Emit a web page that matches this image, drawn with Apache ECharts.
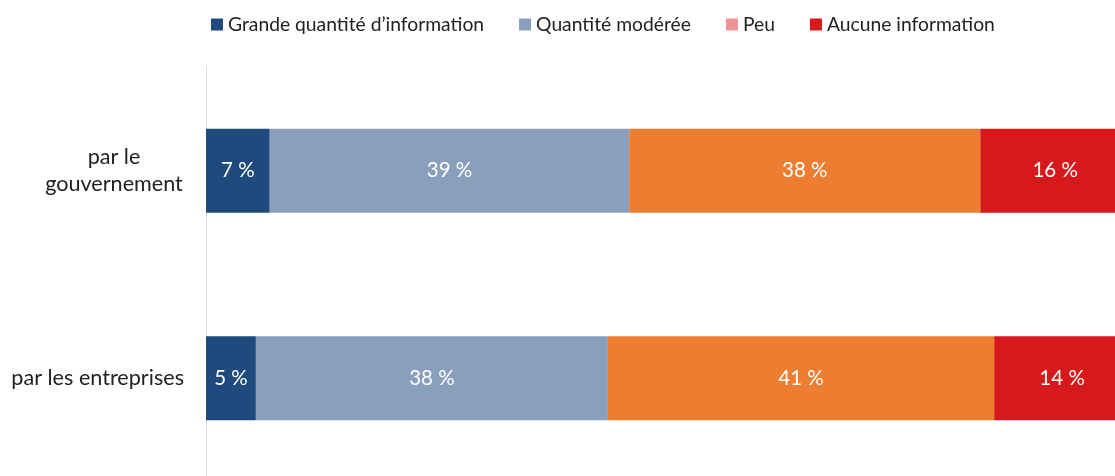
<!DOCTYPE html>
<html>
<head>
<meta charset="utf-8">
<script src="https://cdn.jsdelivr.net/npm/echarts@6/dist/echarts.min.js"></script>
<style>html,body{margin:0;padding:0;background:#fff}#c{width:1115px;height:476px}</style>
</head>
<body>
<div id="c"></div>
<script>
var categories = ['par le\ngouvernement', 'par les entreprises'];
var seriesNames = ['Grande quantité d\u2019information', 'Quantité modérée', 'Peu', 'Aucune information'];
var grande = [6.9, 5.4];
var moderee = [38.9, 38.1];
var peu = [38.0, 41.8];
var aucune = [16.2, 14.7];
var grandeLabels = ['7 %', '5 %'];
var modereeLabels = ['39 %', '38 %'];
var peuLabels = ['38 %', '41 %'];
var aucuneLabels = ['16 %', '14 %'];

var barColors = ['#1f4a7e', '#8a9fbc', '#ed7d31', '#d7191c'];
var legendColors = ['#1f4a7e', '#8a9fbc', '#f09394', '#d7191c'];
var FONT = 'Lato';

var values = [grande, moderee, peu, aucune];
var labels = [grandeLabels, modereeLabels, peuLabels, aucuneLabels];

var chart = echarts.init(document.getElementById('c'));
chart.setOption({
  animation: false,
  textStyle: { fontFamily: FONT },
  legend: {
    top: 10, left: 206,
    icon: 'rect', itemWidth: 12, itemHeight: 12, itemGap: 35,
    textStyle: { fontSize: 19.3, color: '#222', fontFamily: FONT },
    data: seriesNames.map(function (n, i) { return { name: n, itemStyle: { color: legendColors[i] } }; })
  },
  grid: { left: 206, top: 67, width: 924, height: 415, containLabel: false, outerBoundsMode: 'none' },
  xAxis: { type: 'value', min: 0, max: 100, show: false },
  yAxis: {
    type: 'category', inverse: true, data: categories,
    axisLine: { show: true, lineStyle: { color: '#d9d9d9', width: 1 } },
    axisTick: { show: false },
    axisLabel: {
      margin: 22, fontSize: 21.6, color: '#222', fontFamily: FONT, lineHeight: 27,
      formatter: function (v) {
        if (v.indexOf('\n') >= 0) {
          return v.split('\n').map(function (s) { return '{c|' + s + '}'; }).join('\n');
        }
        return v;
      },
      rich: { c: { width: 140, align: 'center', fontSize: 21.6, color: '#222', fontFamily: FONT, lineHeight: 27 } }
    }
  },
  series: values.map(function (arr, i) {
    return {
      name: seriesNames[i], type: 'bar', stack: 'total', barWidth: 84,
      itemStyle: { color: barColors[i] },
      label: {
        show: true, position: 'inside', color: '#fff', fontSize: 20.5, fontFamily: FONT,
        formatter: function (p) { return labels[i][p.dataIndex]; }
      },
      data: arr
    };
  })
});
</script>
</body>
</html>
